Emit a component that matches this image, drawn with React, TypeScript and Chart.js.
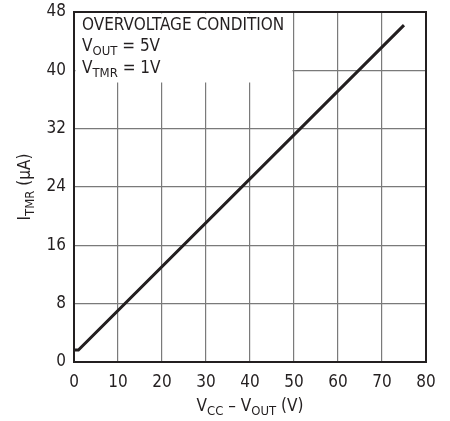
import React, { useEffect, useRef } from "react";
import { Chart, registerables } from "chart.js";

Chart.register(...registerables);

const xValues = [0, 1, 75];
const yValues = [1.65, 1.65, 46.2];
const xTicks = [0, 10, 20, 30, 40, 50, 60, 70, 80];
const yTicks = [0, 8, 16, 24, 32, 40, 48];

const FONT = "'Liberation Sans Narrow', 'DejaVu Sans Condensed', sans-serif";
const TEXT = "#231f20";

type Seg = { t: string; sub?: boolean };

function drawRich(ctx: CanvasRenderingContext2D, segs: Seg[], x: number, y: number, size: number, align: "left" | "center") {
  const sub = Math.round(size * 0.75);
  let total = 0;
  for (const s of segs) {
    ctx.font = `${s.sub ? sub : size}px ${FONT}`;
    total += ctx.measureText(s.t).width;
  }
  let cx = align === "center" ? x - total / 2 : x;
  ctx.textBaseline = "alphabetic";
  ctx.textAlign = "left";
  for (const s of segs) {
    ctx.font = `${s.sub ? sub : size}px ${FONT}`;
    ctx.fillText(s.t, cx, s.sub ? y + size * 0.25 : y);
    cx += ctx.measureText(s.t).width;
  }
}

const overlay = {
  id: "overlay",
  beforeDatasetsDraw(chart: any) {
    const { ctx, chartArea: a } = chart;
    ctx.save();
    ctx.fillStyle = "#ffffff";
    ctx.fillRect(a.left + 1.5, a.top + 1.5, 291 - a.left, 81 - a.top);
    ctx.restore();
  },
  afterDraw(chart: any) {
    const { ctx, chartArea: a } = chart;
    ctx.save();
    ctx.strokeStyle = TEXT;
    ctx.lineWidth = 2;
    ctx.strokeRect(a.left, a.top, a.right - a.left, a.bottom - a.top);
    ctx.fillStyle = TEXT;
    drawRich(ctx, [{ t: "OVERVOLTAGE CONDITION" }], a.left + 8, a.top + 18, 17, "left");
    drawRich(ctx, [{ t: "V" }, { t: "OUT", sub: true }, { t: " = 5V" }], a.left + 8, a.top + 39, 17, "left");
    drawRich(ctx, [{ t: "V" }, { t: "TMR", sub: true }, { t: " = 1V" }], a.left + 8, a.top + 61, 17, "left");
    // x title
    drawRich(ctx, [{ t: "V" }, { t: "CC", sub: true }, { t: " \u2013 V" }, { t: "OUT", sub: true }, { t: " (V)" }], (a.left + a.right) / 2, 411, 17, "center");
    // y title
    ctx.translate(30, 187);
    ctx.rotate(-Math.PI / 2);
    drawRich(ctx, [{ t: "I" }, { t: "TMR", sub: true }, { t: " (\u00b5A)" }], 0, 0, 17, "center");
    ctx.restore();
  },
};

export default function App() {
  const ref = useRef<HTMLCanvasElement>(null);
  useEffect(() => {
    if (!ref.current) return;
    const chart = new Chart(ref.current, {
      type: "line",
      data: {
        datasets: [
          {
            data: xValues.map((x, i) => ({ x, y: yValues[i] })),
            borderColor: TEXT,
            borderWidth: 3,
            pointRadius: 0,
            tension: 0,
            fill: false,
          },
        ],
      },
      options: {
        animation: false,
        responsive: true,
        maintainAspectRatio: false,
        layout: { padding: { left: 0, top: 12, right: 24, bottom: 0 } },
        plugins: { legend: { display: false }, tooltip: { enabled: false } },
        scales: {
          x: {
            type: "linear",
            min: 0,
            max: 80,
            afterBuildTicks: (s: any) => {
              s.ticks = xTicks.map((v) => ({ value: v }));
            },
            afterFit: (s: any) => {
              s.height = 59;
              s.paddingLeft = 0;
              s.paddingRight = 0;
            },
            ticks: { padding: 10, color: TEXT, font: { family: FONT, size: 17 } },
            grid: { color: "#7a7a7a", lineWidth: 1.2, drawTicks: false },
            border: { display: false },
          },
          y: {
            type: "linear",
            min: 0,
            max: 48,
            afterBuildTicks: (s: any) => {
              s.ticks = yTicks.map((v) => ({ value: v }));
            },
            afterFit: (s: any) => {
              s.width = 74;
              s.paddingTop = 0;
              s.paddingBottom = 0;
            },
            ticks: { padding: 8, color: TEXT, font: { family: FONT, size: 17 } },
            grid: { color: "#7a7a7a", lineWidth: 1.2, drawTicks: false },
            border: { display: false },
          },
        },
      },
      plugins: [overlay],
    });
    return () => chart.destroy();
  }, []);
  return (
    <div style={{ position: "absolute", left: 0, top: 0, width: 450, height: 421, background: "#fff" }}>
      <canvas ref={ref} />
    </div>
  );
}
